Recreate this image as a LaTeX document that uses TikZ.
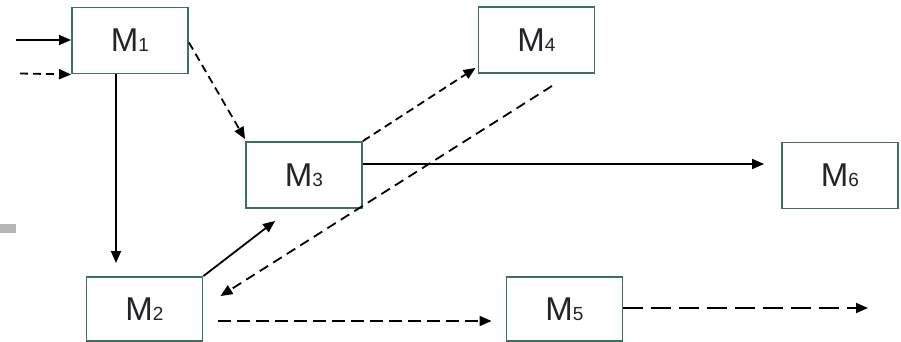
\documentclass[tikz,border=0pt]{standalone}
\usepackage{fontspec}
\setmainfont{Liberation Sans}
\usepackage{tikz}
\usetikzlibrary{arrows.meta, positioning, calc}
\definecolor{mdgreen}{RGB}{55, 115, 95}
\definecolor{mdtext}{RGB}{35, 35, 40}
\definecolor{mdgrey}{RGB}{180, 180, 180}

\newcommand{\mname}[1]{M{\fontsize{19}{19}\selectfont #1}}

\begin{document}
\begin{tikzpicture}[x=1pt, y=-1pt,
  module/.style={draw=mdgreen, line width=1.9pt, fill=white, text=mdtext,
    minimum width=116pt, minimum height=66pt, inner sep=0pt,
    font=\fontsize{33}{36}\selectfont},
  flow/.style={line width=1.8pt, -{Triangle[length=12pt,width=10pt]}},
  dflow/.style={flow, dash pattern=on 8pt off 5pt}]
\useasboundingbox (0,0) rectangle (901,342);

% modules
\node[module] (M1) at (130,40.5) {\mname{1}};
\node[module, minimum height=64pt] (M2) at (144.5,309) {\mname{2}};
\node[module] (M3) at (304,175) {\mname{3}};
\node[module] (M4) at (536.5,40) {\mname{4}};
\node[module, minimum height=64pt] (M5) at (564.5,309) {\mname{5}};
\node[module] (M6) at (840,175.5) {\mname{6}};

% inputs of M1
\coordinate (in1) at (16,40);
\coordinate (in2) at (20,73.5);
\draw[flow] (in1) -- (in1 -| M1.west);
\draw[dflow] (in2) -- (M1.south west);

% M1 to M2 and M3
\draw[flow, shorten >=13pt] ([xshift=-14pt]M1.south) -- ([xshift=-28.5pt]M2.north);
\draw[dflow] ([yshift=-2pt]M1.east) -- ([yshift=2pt]M3.north west);

% M2 and M3
\draw[flow] (M2.north east) -- ([xshift=30pt,yshift=-12pt]M3.south west);
\draw[dflow] (M3.north east) -- ([xshift=-2pt,yshift=6pt]M4.south west);

% back from M4 to M2
\draw[dflow, dash pattern=on 10pt off 6pt] ([xshift=15.5pt,yshift=-12pt]M4.south) -- ([xshift=17pt,yshift=-20pt]M2.north east);

% M3 to M6
\draw[flow, shorten >=17pt] ([yshift=11pt]M3.east) -- ([yshift=11.5pt]M6.west);

% M2 to M5 and output
\draw[dflow, dash pattern=on 13pt off 6pt, shorten <=15pt, shorten >=14pt] ([yshift=-12pt]M2.east) -- ([yshift=-12pt]M5.west);
\coordinate (out) at (868,308);
\draw[dflow, dash pattern=on 20pt off 8pt] (M5.east |- out) -- (out);

% grey mark on the left edge
\fill[mdgrey] (0,224) rectangle (16,233);
\end{tikzpicture}
\end{document}
